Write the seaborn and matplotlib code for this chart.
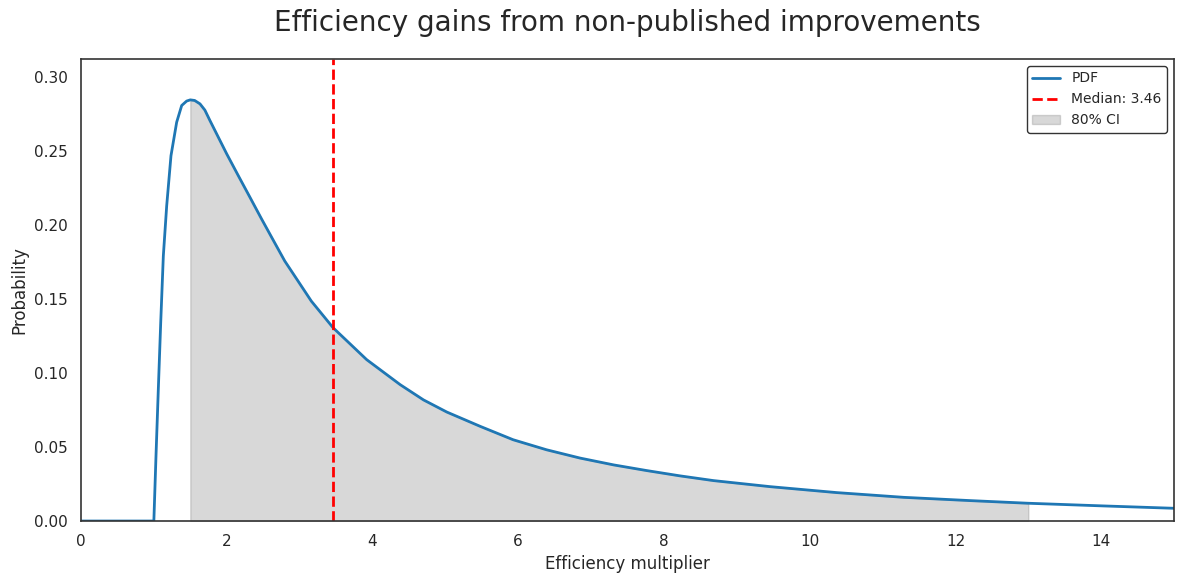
import numpy as np
import matplotlib
matplotlib.use("Agg")
import matplotlib.pyplot as plt
import seaborn as sns

# curve values
x_vals = [0.0, 1.0, 1.029, 1.061, 1.094, 1.13, 1.176, 1.235, 1.313, 1.382, 1.45, 1.50,
          1.56, 1.633, 1.70, 1.77, 1.908, 2.0, 2.159, 2.32, 2.48, 2.64, 2.796, 2.978, 3.161,
          3.46, 3.92, 4.38, 4.70, 5.02, 5.48, 5.93, 6.39, 6.85, 7.31, 7.76, 8.22, 8.68,
          9.46, 10.37, 11.29, 12.2, 13.0, 14.03, 15.0]
pdf_vals = [0.0, 0.0, 0.0435, 0.0887, 0.1339, 0.179, 0.2128, 0.2467, 0.2693, 0.2806, 0.2836, 0.2844,
            0.2840, 0.2817, 0.2775, 0.2704, 0.2569, 0.2479, 0.2332, 0.2185, 0.2038, 0.1895, 0.1756, 0.1621, 0.1485,
            0.1305, 0.109, 0.0921, 0.0818, 0.0736, 0.0639, 0.0549, 0.0481, 0.0425, 0.0379, 0.0341, 0.0305, 0.0273,
            0.0232, 0.0192, 0.016, 0.0138, 0.012, 0.0102, 0.0086]
median = 3.46
ci_low, ci_high = 1.5, 13.0

sns.set_theme(style="white")
fig, ax = plt.subplots(figsize=(11.84, 5.83), dpi=100)
fig.subplots_adjust(left=0.0684, right=0.9916, top=0.8988, bottom=0.1063)

x = np.array(x_vals)
y = np.array(pdf_vals)
sns.lineplot(x=x, y=y, ax=ax, color="#1f77b4", linewidth=2, label="PDF", sort=False)
ax.axvline(median, color="red", linestyle="--", linewidth=2, label=f"Median: {median:.2f}")
mask = (x >= ci_low) & (x <= ci_high)
ax.fill_between(x[mask], y[mask], color="gray", alpha=0.3, label="80% CI")

ax.set_xlim(0, 15)
ax.set_ylim(0, 0.312)
ax.set_xticks(range(0, 16, 2))
ax.set_yticks(np.arange(0, 0.31, 0.05))
ax.set_yticklabels([f"{v:.2f}" for v in np.arange(0, 0.31, 0.05)])
ax.set_xlabel("Efficiency multiplier")
ax.set_ylabel("Probability")
ax.set_title("Efficiency gains from non-published improvements", fontsize=20, pad=20)
for s in ax.spines.values():
    s.set_color("#333333")
    s.set_linewidth(1.2)
leg = ax.legend(loc="upper right", fontsize=10, frameon=True, edgecolor="black")
leg.get_frame().set_linewidth(1)

plt.savefig("out.png", dpi=100)
